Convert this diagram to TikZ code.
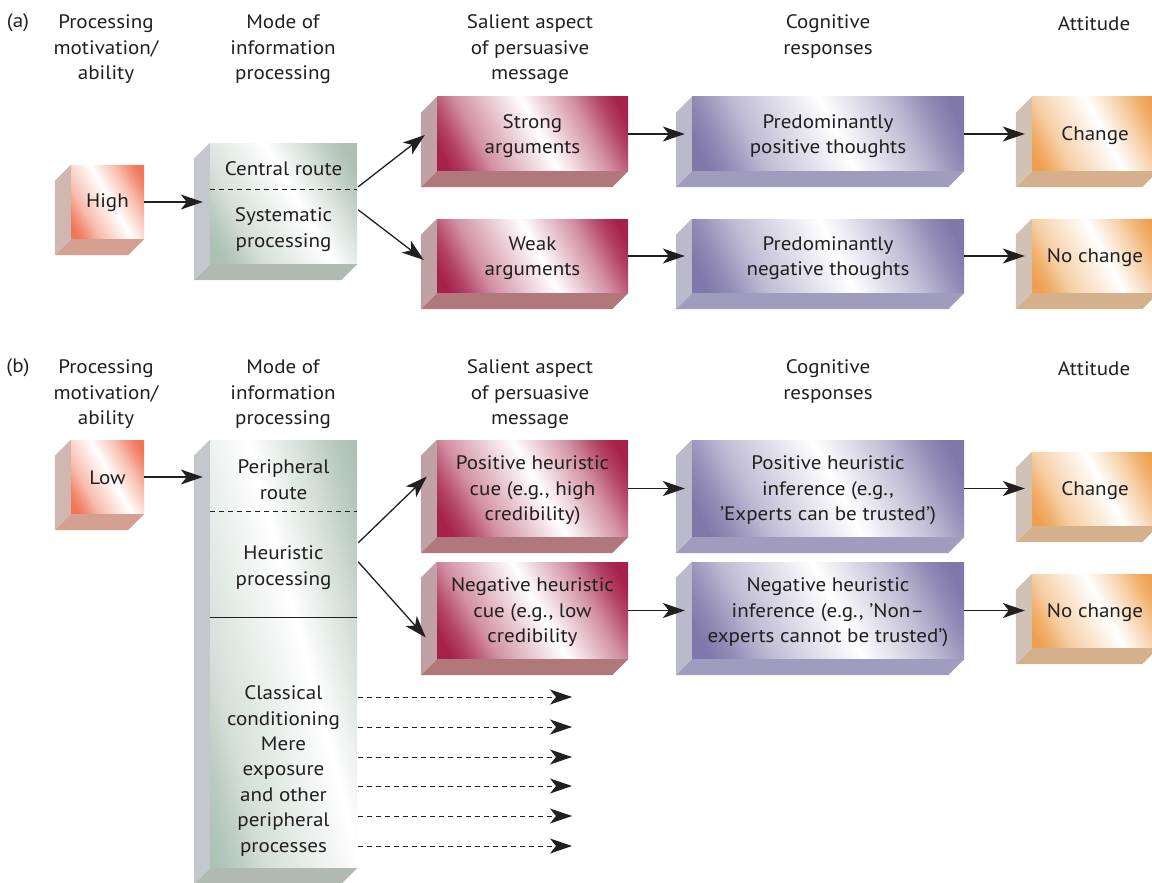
\documentclass[tikz,border=0pt]{standalone}
\usepackage{fontspec}
\setmainfont{PT Sans}[FakeStretch=1.08]
\usepackage{tikz}
\usetikzlibrary{arrows.meta,calc}
\definecolor{txt}{RGB}{35,31,32}
\definecolor{salD}{RGB}{240,118,88}
\definecolor{salS}{RGB}{208,184,176}
\definecolor{salB}{RGB}{212,160,146}
\definecolor{grnD}{RGB}{172,192,180}
\definecolor{grnS}{RGB}{196,200,204}
\definecolor{grnB}{RGB}{176,186,178}
\definecolor{redD}{RGB}{166,34,74}
\definecolor{redS}{RGB}{192,162,166}
\definecolor{redB}{RGB}{176,120,122}
\definecolor{purD}{RGB}{128,120,170}
\definecolor{purS}{RGB}{186,186,202}
\definecolor{purB}{RGB}{160,156,190}
\definecolor{orgD}{RGB}{238,160,78}
\definecolor{orgS}{RGB}{210,194,182}
\definecolor{orgB}{RGB}{212,176,140}
\newcommand\myshade[3]{% name, color, white position
  \pgfdeclarehorizontalshading{#1}{100bp}{color(0bp)=(#2); color(20bp)=(#2); color(25bp)=(#2!85!white); color(33bp)=(#2!50!white); color(#3)=(white); color(67bp)=(#2!50!white); color(75bp)=(#2!85!white); color(80bp)=(#2); color(100bp)=(#2)}}
\myshade{salsh}{salD}{52bp}
\myshade{grnsh}{grnD}{55bp}
\myshade{redsh}{redD}{52bp}
\myshade{pursh}{purD}{52bp}
\myshade{orgsh}{orgD}{54bp}
\newcommand\cubesides[3]{%
  \fill[#2] (#1.north west) -- (#1.south west) -- ($(#1.south west)+(-16,16)$) -- ($(#1.north west)+(-16,16)$) -- cycle;
  \fill[#3] (#1.south west) -- (#1.south east) -- ($(#1.south east)+(-16,16)$) -- ($(#1.south west)+(-16,16)$) -- cycle;}
\begin{document}
\begin{tikzpicture}[x=1pt,y=-1pt,
  every node/.style={text=txt, font=\fontsize{19.5}{25.5}\selectfont, align=center, inner sep=0pt},
  face/.style={shade, minimum width=#1},
  sal/.style={shading=salsh, shading angle=30},
  grn/.style={shading=grnsh, shading angle=#1},
  red/.style={shading=redsh, shading angle=#1},
  pur/.style={shading=pursh, shading angle=#1},
  org/.style={shading=orgsh, shading angle=28},
  hdr/.style={anchor=center},
  arr/.style={draw=txt, line width=1.3pt, -{Stealth[length=22pt,width=15pt,inset=6pt]}, shorten >=7pt},
  darr/.style={draw=txt, line width=1pt, dash pattern=on 5pt off 4pt, -{Stealth[length=22pt,width=15pt,inset=6pt]}},
  sep/.style={draw=txt, line width=0.9pt}
]
\useasboundingbox (0,0) rectangle (1152,883);

% ---------------- panel (a) headers
\node (la) at (18,23) {(a)};
\node[hdr] (ha1) at (106,49.5) {Processing\\motivation/\\ability};
\node[hdr] (ha2) at (283,49.5) {Mode of\\information\\processing};
\node[hdr] (ha3) at (530,49.5) {Salient aspect\\of persuasive\\message};
\node[hdr] (ha4) at (828,36.5) {Cognitive\\responses};
\node[hdr] (ha5) at (1094,24) {Attitude};

% ---------------- panel (a) boxes
\node[face=73pt, minimum height=74pt, sal] (high) at (107.5,202) {};
\node (hight) at (107.5,203) {High};
\cubesides{high}{salS}{salB}
\node[face=147pt, minimum height=121pt, grn=30] (modeA) at (283.5,203.5) {};
\cubesides{modeA}{grnS}{grnB}
\node (cr) at (283.5,169) {Central route};
\node (sp) at (283.5,229.5) {Systematic\\processing};
\draw[sep, dash pattern=on 5pt off 4pt] ($(modeA.north west)+(0,47)$) -- ($(modeA.north east)+(0,47)$);

\node[face=191pt, minimum height=74pt, red=28] (strong) at (532.5,134) {};
\node (strongt) at (532.5,136) {Strong\\arguments};
\cubesides{strong}{redS}{redB}
\node[face=191pt, minimum height=74pt, red=28] (weak) at (532.5,256) {};
\node (weakt) at (532.5,258) {Weak\\arguments};
\cubesides{weak}{redS}{redB}
\node[face=272pt, minimum height=74pt, pur=26] (posth) at (828,134) {};
\node (postht) at (828,136) {Predominantly\\positive thoughts};
\cubesides{posth}{purS}{purB}
\node[face=272pt, minimum height=74pt, pur=26] (negth) at (828,256) {};
\node (negtht) at (828,258) {Predominantly\\negative thoughts};
\cubesides{negth}{purS}{purB}
\node[face=126pt, minimum height=74pt, org] (chA) at (1095,134) {};
\node (chAt) at (1095,136) {Change};
\cubesides{chA}{orgS}{orgB}
\node[face=126pt, minimum height=74pt, org] (ncA) at (1095,256) {};
\node (ncAt) at (1095,258) {No change};
\cubesides{ncA}{orgS}{orgB}

% arrows (a)
\draw[arr] (high.east) -- (high.east -| modeA.west);
\draw[arr, shorten >=0pt] ($(modeA.north east)+(1,44)$) -- ($(strong.west)+(-12,1)$);
\draw[arr, shorten >=0pt] ($(modeA.north east)+(1,67)$) -- ($(weak.west)+(-13,4)$);
\draw[arr] (strong.east) -- (strong.east -| posth.west);
\draw[arr] (weak.east) -- (weak.east -| negth.west);
\draw[arr] (posth.east) -- (posth.east -| chA.west);
\draw[arr] (negth.east) -- (negth.east -| ncA.west);

% ---------------- panel (b) headers
\node (lb) at (18,368) {(b)};
\node[hdr] (hb1) at (106,394.5) {Processing\\motivation/\\ability};
\node[hdr] (hb2) at (283,394.5) {Mode of\\information\\processing};
\node[hdr] (hb3) at (530,394.5) {Salient aspect\\of persuasive\\message};
\node[hdr] (hb4) at (828,381.5) {Cognitive\\responses};
\node[hdr] (hb5) at (1094,369) {Attitude};

% ---------------- panel (b) boxes
\node[face=73pt, minimum height=74pt, sal] (low) at (107.5,477) {};
\node (lowt) at (107.5,478) {Low};
\cubesides{low}{salS}{salB}
\node[face=147pt, minimum height=428pt, grn=15] (modeB) at (283.5,654) {};
\cubesides{modeB}{grnS}{grnB}
\node (pr) at (283.5,479.5) {Peripheral\\route};
\draw[sep, dash pattern=on 5pt off 4pt] ($(modeB.north west)+(0,72)$) -- ($(modeB.north east)+(0,72)$);
\node (hp) at (283.5,567.5) {Heuristic\\processing};
\draw[sep] ($(modeB.north west)+(0,178)$) -- ($(modeB.north east)+(0,178)$);
\node (cc) at (283.5,771) {Classical\\conditioning\\Mere\\exposure\\and other\\peripheral\\processes};

\node[face=191pt, minimum height=97pt, red=30] (pcue) at (532.5,488.5) {};
\node (pcuet) at (532.5,490.5) {Positive heuristic\\cue (e.g., high\\credibility)};
\cubesides{pcue}{redS}{redB}
\node[face=191pt, minimum height=97pt, red=30] (ncue) at (532.5,610.5) {};
\node (ncuet) at (532.5,612.5) {Negative heuristic\\cue (e.g., low\\credibility};
\cubesides{ncue}{redS}{redB}
\node[face=272pt, minimum height=97pt, pur=28] (pinf) at (828,488.5) {};
\node (pinft) at (828,490.5) {Positive heuristic\\inference (e.g.,\\\textquoteright Experts can be trusted\textquoteright)};
\cubesides{pinf}{purS}{purB}
\node[face=272pt, minimum height=97pt, pur=28] (ninf) at (828,610.5) {};
\node (ninft) at (828,612.5) {Negative heuristic\\inference (e.g., \textquoteright Non\textendash\\experts cannot be trusted\textquoteright)};
\cubesides{ninf}{purS}{purB}
\node[face=126pt, minimum height=74pt, org] (chB) at (1095,489) {};
\node (chBt) at (1095,491) {Change};
\cubesides{chB}{orgS}{orgB}
\node[face=126pt, minimum height=74pt, org] (ncB) at (1095,611) {};
\node (ncBt) at (1095,613) {No change};
\cubesides{ncB}{orgS}{orgB}

% arrows (b)
\draw[arr] (low.east) -- (low.east -| modeB.west);
\draw[arr, shorten >=0pt] ($(modeB.north east)+(1,103)$) -- ($(pcue.west)+(-10,-12)$);
\draw[arr, shorten >=0pt] ($(modeB.north east)+(1,122)$) -- ($(ncue.west)+(-11,27)$);
\draw[arr] (pcue.east) -- (pcue.east -| pinf.west);
\draw[arr] (ncue.east) -- (ncue.east -| ninf.west);
\draw[arr] (pinf.east) -- (pinf.east -| chB.west);
\draw[arr] (ninf.east) -- (ninf.east -| ncB.west);

% dashed arrows
\coordinate (d1) at (572,697);
\coordinate (d2) at (572,727);
\coordinate (d3) at (572,757);
\coordinate (d4) at (572,786);
\coordinate (d5) at (572,816);
\coordinate (d6) at (572,846);
\foreach \d in {d1,d2,d3,d4,d5,d6}
  \draw[darr] ($(modeB.east |- \d)+(1,0)$) -- (\d);
\end{tikzpicture}
\end{document}
